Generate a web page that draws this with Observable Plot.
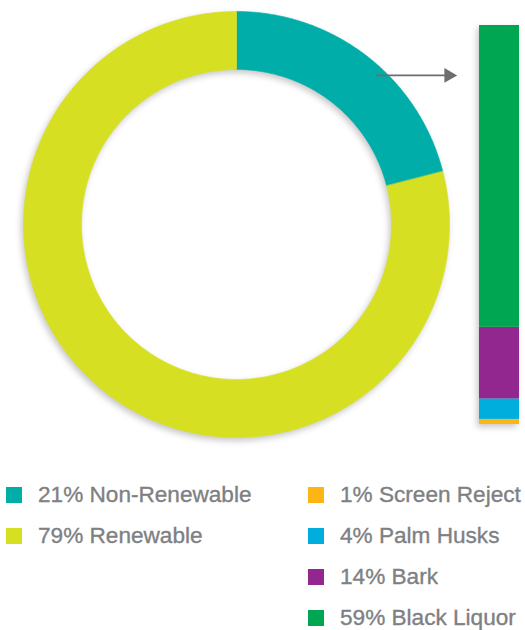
<!DOCTYPE html>
<html><head><meta charset="utf-8">
<script src="https://cdn.jsdelivr.net/npm/d3@7"></script>
<script src="https://cdn.jsdelivr.net/npm/@observablehq/plot@0.6"></script>
<style>
body{margin:0;background:#fff;}
#wrap{position:relative;width:525px;height:630px;font-family:"Liberation Sans",Arial,sans-serif;overflow:hidden;}
#donut{position:absolute;left:0;top:0;}
#bar{position:absolute;left:479px;top:0;}
svg{overflow:visible;}
.leg{position:absolute;display:flex;align-items:center;height:28px;font-size:22.6px;color:#7e8083;white-space:nowrap;-webkit-text-stroke:0.35px #7e8083;}
.sw{width:16px;height:16px;margin-right:16px;flex:none;}
</style></head><body><div id="wrap"><div id="donut"></div><div id="bar"></div></div>
<script>
// ---- data ----
const sourceNames = ["Non-Renewable", "Renewable"];
const sourceValues = [21, 79];
const sourceColors = ["#00ada8", "#d7df23"];

const fuelNames = ["Screen Reject", "Palm Husks", "Bark", "Black Liquor"];
const fuelValues = [1, 4, 14, 59];
const fuelColors = ["#fdb515", "#00aede", "#92278f", "#00a651"];

// ---- donut geometry (unit circle, angles clockwise from 12 o'clock) ----
const innerRatio = 155 / 213;
const total = d3.sum(sourceValues);
const ringPts = [];
let acc = 0;
sourceNames.forEach((name, i) => {
  const a0 = acc / total * 2 * Math.PI;
  acc += sourceValues[i];
  const a1 = acc / total * 2 * Math.PI;
  const n = 200;
  for (let k = 0; k <= n; k++) { const a = a0 + (a1 - a0) * k / n; ringPts.push({name, x: Math.sin(a), y: Math.cos(a)}); }
  for (let k = n; k >= 0; k--) { const a = a0 + (a1 - a0) * k / n; ringPts.push({name, x: innerRatio * Math.sin(a), y: innerRatio * Math.cos(a)}); }
});

// annotation arrow (donut unit coordinates)
const arrow = [{x1: 0.657, x2: 0.98, xHead: 0.996, y: 0.70}];

const shadow = "drop-shadow(-2px 3px 3px rgba(0,0,0,0.22))";

const donut = Plot.plot({
  width: 470, height: 450, margin: 0,
  x: {domain: [-1, 1], range: [23, 449], axis: null},
  y: {domain: [-1, 1], range: [437, 11], axis: null},
  color: {domain: sourceNames, range: sourceColors},
  marks: [
    Plot.line(ringPts, {x: "x", y: "y", z: "name", fill: "name", stroke: "name", strokeWidth: 0.6, curve: "linear-closed", imageFilter: shadow}),
    Plot.link(arrow, {x1: "x1", x2: "x2", y1: "y", y2: "y", stroke: "#6d6e71", strokeWidth: 1.6}),
    Plot.dot(arrow, {x: "xHead", y: "y", symbol: "triangle", rotate: 90, r: 5.5, fill: "#6d6e71", stroke: "none"})
  ]
});
document.getElementById("donut").append(donut);

const fuelRows = fuelNames.map((name, i) => ({name, value: fuelValues[i], col: "bar"}));
const bar = Plot.plot({
  width: 40, height: 450,
  marginTop: 25, marginBottom: 26, marginLeft: 0, marginRight: 0,
  x: {axis: null, padding: 0},
  y: {domain: [0, d3.sum(fuelValues)], axis: null},
  color: {domain: fuelNames, range: fuelColors},
  marks: [
    Plot.barY(fuelRows, {x: "col", y: "value", fill: "name", imageFilter: shadow})
  ]
});
document.getElementById("bar").append(bar);

// ---- legend ----
const wrap = d3.select("#wrap");
const rowY = [495, 536, 577, 618];
function addLegend(names, values, colors, left, order) {
  order.forEach((idx, row) => {
    const item = wrap.append("div").attr("class", "leg")
      .style("left", left + "px").style("top", (rowY[row] - 14) + "px");
    item.append("div").attr("class", "sw").style("background", colors[idx]);
    item.append("span").text(`${values[idx]}% ${names[idx]}`);
  });
}
addLegend(sourceNames, sourceValues, sourceColors, 6, [0, 1]);
addLegend(fuelNames, fuelValues, fuelColors, 308, [0, 1, 2, 3]);
</script></body></html>
